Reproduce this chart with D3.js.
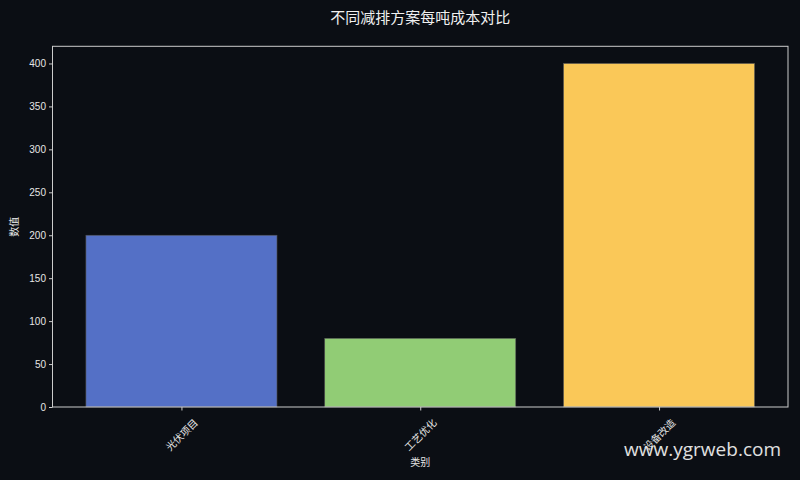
<!DOCTYPE html>
<html><head><meta charset="utf-8">
<script src="https://cdn.jsdelivr.net/npm/d3@7"></script>
<style>
html,body{margin:0;padding:0;background:#0b0e14;}
svg{display:block;}
</style></head>
<body>
<svg id="c" width="800" height="480"></svg>
<script>
const categories = ["光伏项目", "工艺优化", "设备改造"];
const values = [200, 80, 400];
const colors = ["#5470c6", "#91cc75", "#fac858"];
const yTicks = [0, 50, 100, 150, 200, 250, 300, 350, 400];

const W = 800, H = 480;
const m = {left: 52.5, right: 12, top: 46.3, bottom: 73};
const svg = d3.select("#c");
svg.append("rect").attr("width", W).attr("height", H).attr("fill", "#0b0e14");

const pw = W - m.left - m.right, ph = H - m.top - m.bottom;
const g = svg.append("g").attr("transform", `translate(${m.left},${m.top})`);

const x = d3.scaleLinear().domain([-0.54, categories.length - 1 + 0.54]).range([0, pw]);
const y = d3.scaleLinear().domain([0, 420]).range([ph, 0]);
const bw = 0.8;

g.selectAll("rect.bar").data(values).enter().append("rect")
  .attr("class", "bar")
  .attr("x", (d, i) => x(i - bw / 2))
  .attr("width", (d, i) => x(i + bw / 2) - x(i - bw / 2))
  .attr("y", d => y(d))
  .attr("height", d => y(0) - y(d))
  .attr("fill", (d, i) => colors[i])
  .attr("stroke", "#555")
  .attr("stroke-width", 0.6);

const font = "'Noto Sans CJK SC', 'DejaVu Sans', sans-serif";
const axisColor = "#cccccc";

// y axis
const ya = g.append("g").call(d3.axisLeft(y).tickValues(yTicks).tickSize(3.5).tickPadding(3));
ya.select(".domain").remove();
ya.selectAll("line").attr("stroke", axisColor);
ya.selectAll("text").attr("fill", "#e6e6e6").style("font-family", "'Liberation Sans', Arial, sans-serif").style("font-size", "10px");

// x axis
const xa = g.append("g").attr("transform", `translate(0,${ph})`)
  .call(d3.axisBottom(x).tickValues(categories.map((d, i) => i)).tickFormat(i => categories[i]).tickSize(3.5));
xa.select(".domain").remove();
xa.selectAll("line").attr("stroke", axisColor);
xa.selectAll("text")
  .attr("fill", "#e6e6e6")
  .style("font-family", font).style("font-size", "10px")
  .attr("text-anchor", "middle")
  .attr("dy", "0.35em")
  .attr("y", 0).attr("x", 0)
  .attr("transform", "translate(0,28) rotate(-45)");

// frame
g.append("rect").attr("width", pw).attr("height", ph)
  .attr("fill", "none").attr("stroke", axisColor).attr("stroke-width", 1);

// labels
svg.append("text").attr("x", m.left + pw / 2).attr("y", 23)
  .attr("text-anchor", "middle").attr("fill", "#f0f0f0")
  .style("font-family", font).style("font-size", "15px")
  .text("不同减排方案每吨成本对比");

svg.append("text").attr("x", m.left + pw / 2).attr("y", 466)
  .attr("text-anchor", "middle").attr("fill", "#e6e6e6")
  .style("font-family", font).style("font-size", "10px")
  .text("类别");

svg.append("text").attr("transform", `translate(18,${m.top + ph / 2}) rotate(-90)`)
  .attr("text-anchor", "middle").attr("fill", "#e6e6e6")
  .style("font-family", font).style("font-size", "10px")
  .text("数值");

svg.append("text").attr("x", 781).attr("y", 456)
  .attr("text-anchor", "end").attr("fill", "#e0e0e0")
  .style("font-family", "'Open Sans', 'DejaVu Sans', sans-serif").style("font-size", "19px")
  .text("www.ygrweb.com");
</script>
</body></html>
